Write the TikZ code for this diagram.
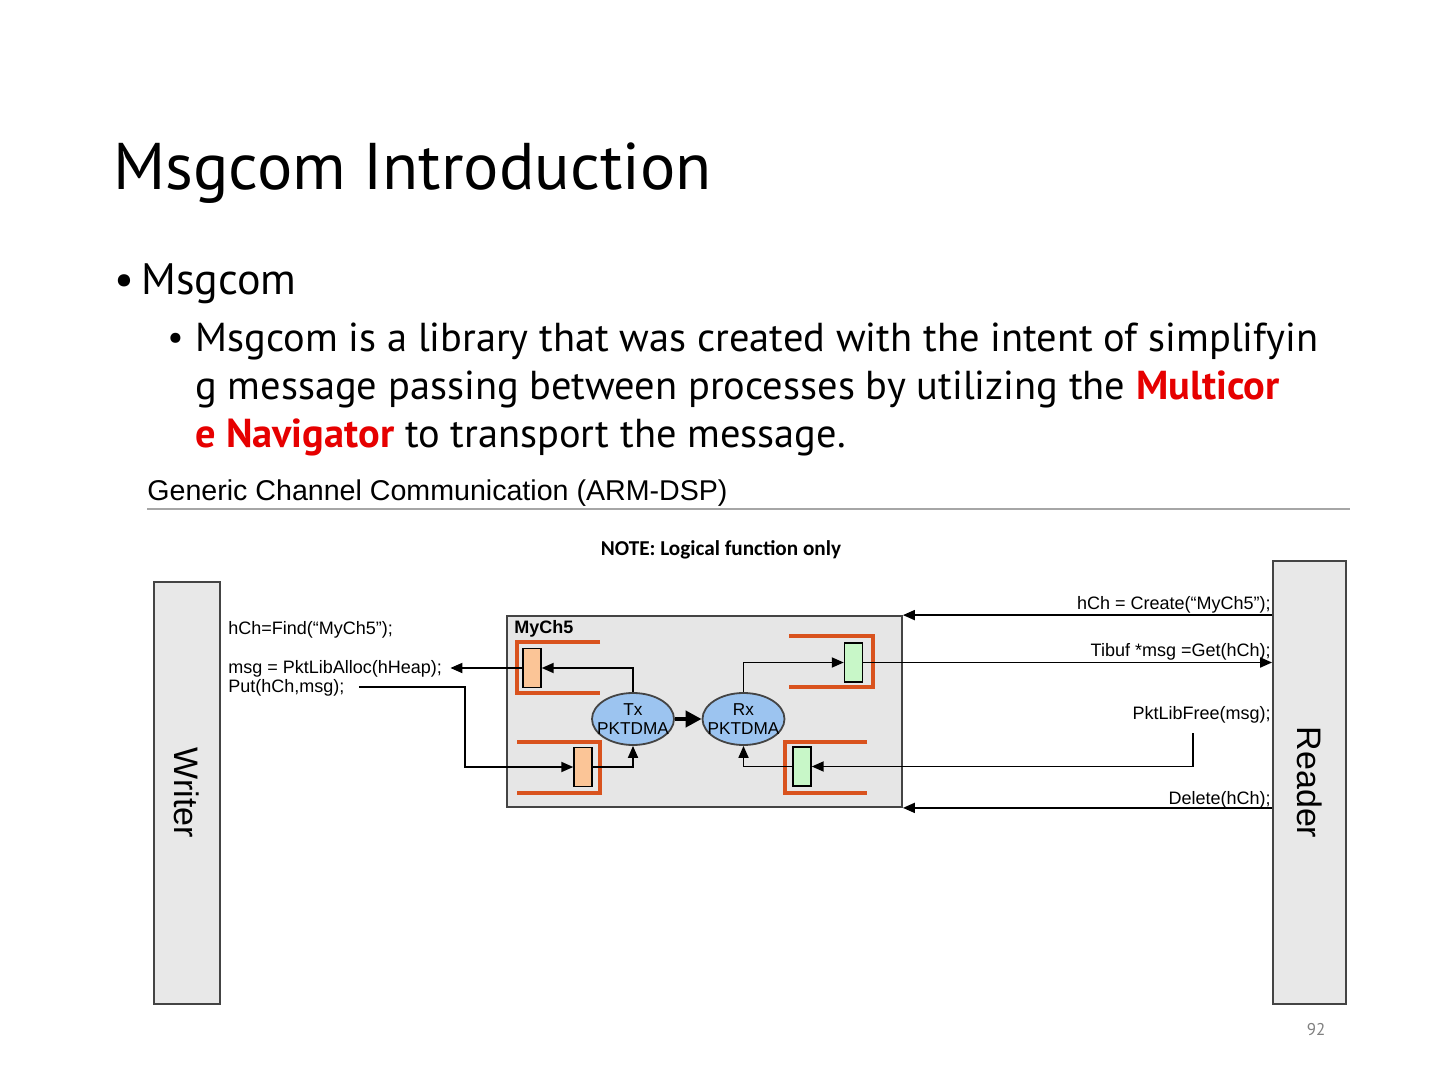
\documentclass[tikz,border=0pt]{standalone}
\usepackage{fontspec}
\setmainfont{PT Sans}
\newfontfamily\arialfont{Liberation Sans}
\newfontfamily\calfont{Carlito}
\usetikzlibrary{shapes.geometric,arrows.meta}
\definecolor{boxgray}{HTML}{E8E8E8}
\definecolor{chgray}{HTML}{E6E6E6}
\definecolor{edgegray}{HTML}{444444}
\definecolor{dmablue}{HTML}{9CC4F0}
\definecolor{bufor}{HTML}{FBC597}
\definecolor{bufgr}{HTML}{C8F7C8}
\definecolor{qred}{HTML}{D9531E}
\definecolor{hired}{HTML}{E60000}
\tikzset{
  proc/.style={draw=edgegray,fill=boxgray,line width=0.9pt,minimum width=33pt,inner sep=0pt},
  dma/.style={ellipse,draw=edgegray,fill=dmablue,line width=0.9pt,minimum width=41pt,minimum height=26pt,inner sep=0pt},
  dmatext/.style={align=center,inner sep=0pt,font=\arialfont\fontsize{8.6}{9.5}\selectfont},
  buf/.style={draw=black,line width=0.7pt,minimum width=9pt,minimum height=19.5pt,inner sep=0pt},
  qline/.style={draw=qred,line width=2pt},
  call/.style={inner sep=0pt,font=\arialfont\fontsize{9}{10}\selectfont},
  arr/.style={line width=0.9pt,-{Triangle[length=6pt,width=5pt]}},
}
\begin{document}
\begin{tikzpicture}[x=0.5pt,y=-0.5pt]
  \useasboundingbox[fill=white] (0,0) rectangle (1440,1080);
  % slide text
  \node[anchor=base west,inner sep=0pt,font=\fontsize{33}{37}\selectfont] (title) at (113,190) {Msgcom Introduction};
  \node[anchor=base west,inner sep=0pt,font=\fontsize{22}{26}\selectfont] (dot1) at (114,295) {•};
  \node[anchor=base west,inner sep=0pt,font=\fontsize{22}{26}\selectfont] (b1) at (141,295) {Msgcom};
  \node[anchor=base west,inner sep=0pt,font=\fontsize{18}{22}\selectfont] (dot2) at (167,350) {•};
  \begin{scope}[every node/.style={anchor=base west,inner sep=0pt,font=\fontsize{20.2}{24}\selectfont}]
    \node (l1) at (195,352) {Msgcom is a library that was created with the intent of simplifyin};
    \node (l2) at (195,400) {g message passing between processes by utilizing the \textcolor{hired}{\bfseries Multicor}};
    \node (l3) at (195,447) {\textcolor{hired}{\bfseries e Navigator} to transport the message.};
  \end{scope}
  % diagram heading
  \node[anchor=base west,inner sep=0pt,font=\arialfont\fontsize{14.3}{16}\selectfont] (head) at (147,500) {Generic Channel Communication (ARM-DSP)};
  \draw[gray!70,line width=0.6pt] (147,509) -- (1350,509);
  \node[anchor=base,inner sep=0pt,font=\calfont\bfseries\fontsize{10.6}{12}\selectfont] (note) at (721,555) {NOTE: Logical function only};
  % writer / reader
  \node[proc,minimum height=211pt] (writer) at (187,793) {};
  \node[rotate=-90,font=\arialfont\fontsize{17}{20}\selectfont] at (writer) {Writer};
  \node[proc,minimum width=36.5pt,minimum height=221.5pt] (reader) at (1309.5,782.5) {};
  \node[rotate=-90,font=\arialfont\fontsize{17}{20}\selectfont] at (reader) {Reader};
  % channel
  \node[draw=edgegray,fill=chgray,line width=0.9pt,minimum width=197.5pt,minimum height=95.5pt,inner sep=0pt] (chan) at (704.5,711.5) {};
  \node[anchor=base west,inner sep=0pt,font=\arialfont\bfseries\fontsize{9}{10}\selectfont] at (514,633) {MyCh5};
  \draw[qline] (600,642) -- (517,642) -- (517,693) -- (600,693);
  \draw[qline] (517,742) -- (600,742) -- (600,793) -- (517,793);
  \draw[qline] (789,636) -- (873,636) -- (873,687) -- (789,687);
  \draw[qline] (867,742) -- (785,742) -- (785,793) -- (867,793);
  \node[buf,fill=bufor] (txfbuf) at (532,668) {};
  \node[buf,fill=bufor] (txbuf) at (583,767) {};
  \node[buf,fill=bufgr] (rxbuf) at (853.5,662.5) {};
  \node[buf,fill=bufgr] (rxfbuf) at (802,766.5) {};
  \node[dma] (tx) at (633,719) {}; \node[dmatext] at (tx) {Tx\\PKTDMA};
  \node[dma] (rx) at (743.5,719) {}; \node[dmatext] at (rx) {Rx\\PKTDMA};
  % calls
  \node[call,anchor=base west] (find) at (228,634) {hCh=Find(“MyCh5”);};
  \node[call,anchor=base west] (alloc) at (228,673) {msg = PktLibAlloc(hHeap);};
  \node[call,anchor=base west] (put) at (228,692) {Put(hCh,msg);};
  \node[call,anchor=base east] (create) at (1271,609) {hCh = Create(“MyCh5”);};
  \node[call,anchor=base east] (get) at (1271,656) {Tibuf *msg =Get(hCh);};
  \node[call,anchor=base east] (free) at (1271,719) {PktLibFree(msg);};
  \node[call,anchor=base east] (delete) at (1271,804) {Delete(hCh);};
  \coordinate (putturn) at (465,767);
  \coordinate (freetop) at (1193,733);
  % connectors
  \draw[arr] (tx.north) |- (txfbuf.east);
  \draw[arr] (txfbuf.west) -- ([xshift=4pt]alloc.east |- txfbuf.west);
  \draw[arr] ([xshift=7pt]put.east) -- (put.east -| putturn) -- (putturn) -- (txbuf.west);
  \draw[arr] (txbuf.east) -| (tx.south);
  \draw[line width=2.4pt,-{Triangle[length=8pt,width=8pt]}] (tx) -- (rx);
  \draw[arr] (rx.north) |- (rxbuf.west);
  \draw[arr] (rxbuf.east) -- (rxbuf.east -| reader.west);
  \draw[arr] (rxfbuf.west) -| (rx.south);
  \draw[arr] (freetop) |- (rxfbuf.east);
  \draw[arr] (reader.west |- chan.north east) -- (chan.north east);
  \draw[arr] (reader.west |- chan.south east) -- (chan.south east);
  % page number
  \node[text=gray,font=\fontsize{8.5}{10}\selectfont] (page) at (1316,1030) {92};
\end{tikzpicture}
\end{document}
